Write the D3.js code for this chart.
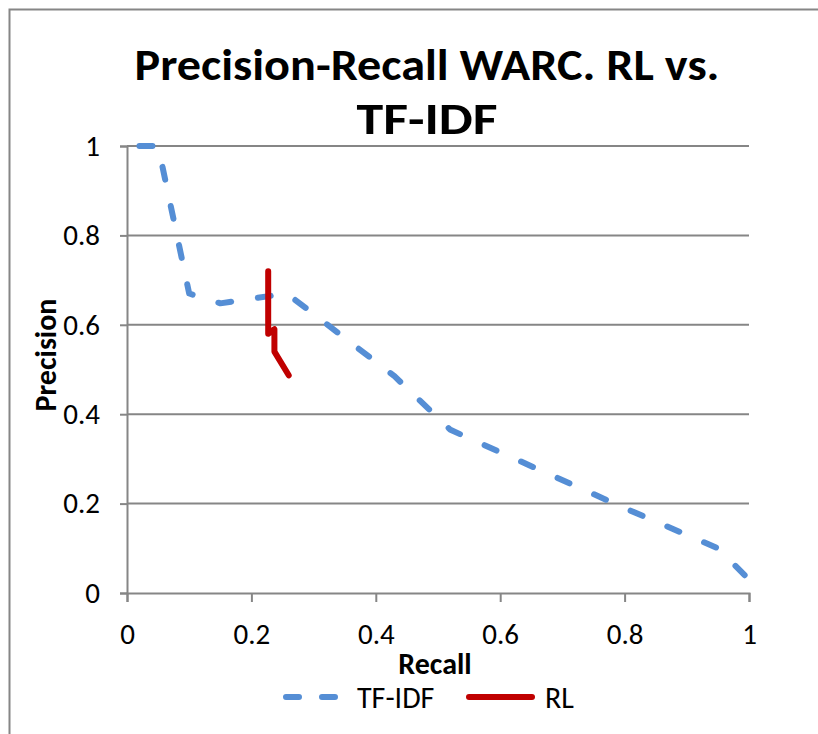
<!DOCTYPE html>
<html>
<head>
<meta charset="utf-8">
<script src="https://cdn.jsdelivr.net/npm/d3@7"></script>
<style>
  body { margin: 0; background: #fff; }
  text { font-family: Calibri, Carlito, Lato, sans-serif; fill: #000; }
</style>
</head>
<body>
<svg width="818" height="734"></svg>
<script>
// TF-IDF precision-recall curve
let tfidfRecall    = [0.02, 0.05, 0.10, 0.15, 0.257, 0.43, 0.52, 0.80, 0.95, 1.00];
let tfidfPrecision = [1.00, 1.00, 0.67, 0.648, 0.67, 0.485, 0.365, 0.19, 0.10, 0.03];

// RL precision-recall curve
let rlRecall    = [0.227, 0.227, 0.237, 0.237, 0.260];
let rlPrecision = [0.72, 0.58, 0.59, 0.54, 0.487];

let xTicks = [0, 0.2, 0.4, 0.6, 0.8, 1];
let yTicks = [0, 0.2, 0.4, 0.6, 0.8, 1];

let svg = d3.select('svg');
let gray = '#868686';
let blue = '#558ed5';
let red = '#c00000';
let labelSize = '30px';
let tickSize = '29px';

let x = d3.scaleLinear().domain([0, 1]).range([127, 749]);
let y = d3.scaleLinear().domain([0, 1]).range([593, 146]);

// outer chart border (clipped at right and bottom like the source)
svg.append('path')
    .attr('d', 'M9.5,734 V9.5 H818')
    .attr('fill', 'none')
    .attr('stroke', gray)
    .attr('stroke-width', 2);

// title
svg.append('text')
    .attr('x', 427).attr('y', 80)
    .attr('text-anchor', 'middle')
    .attr('textLength', 585).attr('lengthAdjust', 'spacingAndGlyphs')
    .style('font-size', '45px').style('font-weight', 'bold')
    .text('Precision-Recall WARC. RL vs.');
svg.append('text')
    .attr('x', 427).attr('y', 134)
    .attr('text-anchor', 'middle')
    .attr('textLength', 141).attr('lengthAdjust', 'spacingAndGlyphs')
    .style('font-size', '45px').style('font-weight', 'bold')
    .text('TF-IDF');

// horizontal gridlines
svg.append('g')
    .selectAll('line')
    .data(yTicks.filter(d => d > 0))
    .enter().append('line')
    .attr('x1', x(0)).attr('x2', x(1))
    .attr('y1', d => y(d)).attr('y2', d => y(d))
    .attr('stroke', gray).attr('stroke-width', 2);

// y axis
let yAxis = d3.axisLeft(y).tickValues(yTicks).tickSize(7).tickPadding(20)
    .tickFormat(d => d3.format('')(d));
let gy = svg.append('g')
    .attr('transform', `translate(${x(0)},0)`)
    .call(yAxis);
gy.select('.domain').attr('stroke', gray).attr('stroke-width', 2);
gy.selectAll('.tick line').attr('stroke', gray).attr('stroke-width', 2);
gy.selectAll('.tick text')
    .style('font-size', tickSize)
    .attr('fill', '#000');

// x axis
let xAxis = d3.axisBottom(x).tickValues(xTicks).tickSize(9).tickPadding(21)
    .tickFormat(d => d3.format('')(d));
let gx = svg.append('g')
    .attr('transform', `translate(0,${y(0)})`)
    .call(xAxis);
gx.select('.domain').attr('stroke', gray).attr('stroke-width', 2);
gx.selectAll('.tick line').attr('stroke', gray).attr('stroke-width', 2);
gx.selectAll('.tick text')
    .style('font-size', tickSize)
    .attr('fill', '#000');

// axis titles
svg.append('text')
    .attr('x', 435).attr('y', 674)
    .attr('text-anchor', 'middle')
    .style('font-size', labelSize).style('font-weight', 'bold')
    .text('Recall');
svg.append('text')
    .attr('transform', 'translate(56,355) rotate(-90)')
    .attr('text-anchor', 'middle')
    .style('font-size', labelSize).style('font-weight', 'bold')
    .text('Precision');

// series
let line = d3.line().x(d => x(d[0])).y(d => y(d[1]));
let tfidf = d3.zip(tfidfRecall, tfidfPrecision);
let rl = d3.zip(rlRecall, rlPrecision);

svg.append('path')
    .datum(tfidf)
    .attr('d', line)
    .attr('fill', 'none')
    .attr('stroke', blue)
    .attr('stroke-width', 6)
    .attr('stroke-linecap', 'round')
    .attr('stroke-linejoin', 'round')
    .attr('stroke-dasharray', '13 27');

svg.append('path')
    .datum(rl)
    .attr('d', line)
    .attr('fill', 'none')
    .attr('stroke', red)
    .attr('stroke-width', 6)
    .attr('stroke-linecap', 'round')
    .attr('stroke-linejoin', 'round');

// legend
let legend = svg.append('g');
legend.append('line')
    .attr('x1', 286).attr('x2', 342).attr('y1', 697).attr('y2', 697)
    .attr('stroke', blue).attr('stroke-width', 6)
    .attr('stroke-linecap', 'round')
    .attr('stroke-dasharray', '13 23');
legend.append('text')
    .attr('x', 357).attr('y', 708)
    .style('font-size', labelSize)
    .text('TF-IDF');
legend.append('line')
    .attr('x1', 469).attr('x2', 532).attr('y1', 697).attr('y2', 697)
    .attr('stroke', red).attr('stroke-width', 6)
    .attr('stroke-linecap', 'round');
legend.append('text')
    .attr('x', 545).attr('y', 708)
    .style('font-size', labelSize)
    .text('RL');
</script>
</body>
</html>
